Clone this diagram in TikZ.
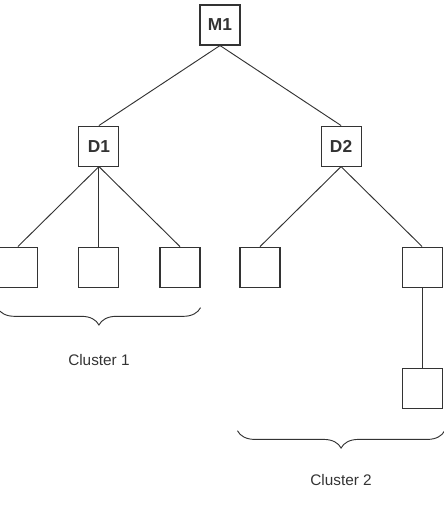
\documentclass[tikz,border=0pt]{standalone}
\usepackage{fontspec}
\setmainfont{Liberation Sans}
\usetikzlibrary{positioning, calc, decorations.pathreplacing}
\definecolor{inkgray}{RGB}{51,51,51}

\begin{document}
\begin{tikzpicture}[
                node distance=60pt,
                box/.style={rectangle, draw=inkgray, fill=white, line width=0.8pt, minimum size=30pt, inner sep=0pt, text=inkgray, font=\fontsize{13}{15}\selectfont\bfseries},
                link/.style={draw=inkgray, line width=0.7pt},
                brace/.style={decorate, decoration={brace, amplitude=13pt, mirror}, draw=inkgray, line width=0.7pt},
                cluster/.style={text=inkgray, font=\fontsize{11.5}{14}\selectfont}
            ]
                \useasboundingbox (0,0) rectangle (332.25pt,-399pt);
                \node[box] (m1) at (165pt,-18.75pt) {M1};
                \node[box, below left=60pt and 60pt of m1] (d1) {D1};
                \node[box, below right=60pt and 60pt of m1] (d2) {D2};
                \node[box, below left=60pt and 30pt of d1] (la) {};
                \node[box, below=of d1] (lb) {};
                \node[box, below right=60pt and 30pt of d1] (lc) {};
                \node[box, below left=60pt and 30pt of d2] (ld) {};
                \node[box, below right=60pt and 30pt of d2] (le) {};
                \node[box, below=of le] (lf) {};

                \draw[link] (m1.south) -- (d1.north);
                \draw[link] (m1.south) -- (d2.north);
                \draw[link] (d1.south) -- (la.north);
                \draw[link] (d1.south) -- (lb.north);
                \draw[link] (d1.south) -- (lc.north);
                \draw[link] (d2.south) -- (ld.north);
                \draw[link] (d2.south) -- (le.north);
                \draw[link] (le.south) -- (lf.north);

                % cluster braces
                \draw[brace] ([yshift=-15pt]la.south west) -- ([yshift=-15pt]lc.south east);
                \draw[brace] ($(ld.west |- lf.south)+(-1.5pt,-16.5pt)$) -- ($(lf.south east)+(1.5pt,-16.5pt)$);
                \node[cluster] (c1) at ($(la.south)!0.5!(lc.south)+(0,-54pt)$) {Cluster 1};
                \node[cluster] (c2) at ($(ld.south)!0.5!(le.south)+(0,-54pt-90pt)$) {Cluster 2};
            \end{tikzpicture}
\end{document}
